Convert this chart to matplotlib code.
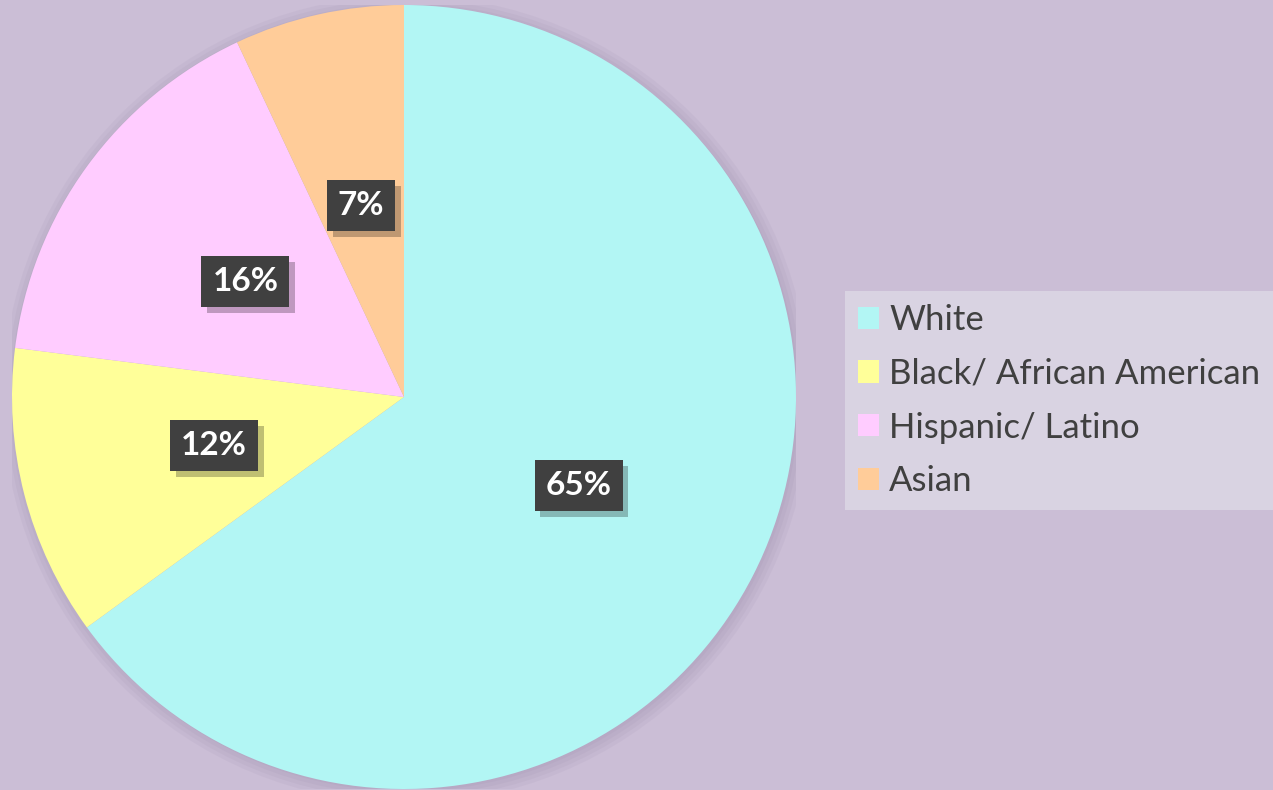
import matplotlib.pyplot as plt
import matplotlib.patheffects as pe
from matplotlib.patches import Circle

# race / ethnicity share
groups = ['White', 'Black/ African American', 'Hispanic/ Latino', 'Asian']
shares = [65, 12, 16, 7]
colors = ['#B2F6F4', '#FFFF99', '#FFCCFF', '#FFCC99']

bg = '#CBBED6'
W, H = 1273, 790

plt.rcParams['font.family'] = ['Lato', 'DejaVu Sans']

fig = plt.figure(figsize=(W / 100, H / 100), dpi=100, facecolor=bg)
# pie centre ~ (404, 397) px, radius ~ 392 px
ax = fig.add_axes([12 / W, 1 / H, 784 / W, 784 / H])
ax.set_facecolor(bg)

# soft shadow behind the pie
for r in [1.03, 1.02, 1.01, 1.0]:
    ax.add_patch(Circle((0.006, -0.006), r, facecolor='#8a7a9a', alpha=0.08,
                        linewidth=0, zorder=0))

wedges, texts, autotexts = ax.pie(
    shares, colors=colors, startangle=90, counterclock=False,
    autopct='%1.0f%%', pctdistance=0.5, radius=1.0,
    wedgeprops=dict(linewidth=0, zorder=1),
    textprops=dict(color='white', fontsize=24, fontweight='bold'))

for t in autotexts:
    t.set_zorder(5)
    t.set_bbox(dict(boxstyle='square,pad=0.33', facecolor='#404040',
                    edgecolor='none', linewidth=0))
    t.get_bbox_patch().set_path_effects([
        pe.SimplePatchShadow(offset=(4, -4), shadow_rgbFace='#000000', alpha=0.25),
        pe.Normal()])

ax.set_xlim(-1, 1)
ax.set_ylim(-1, 1)
ax.set_aspect('equal')
ax.axis('off')

leg = fig.legend(wedges, groups, loc='upper left',
                 bbox_to_anchor=(845 / W, 1 - 291 / H),
                 frameon=True, fancybox=False, fontsize=25,
                 handlelength=0.6, handleheight=0.6, handletextpad=0.3,
                 labelspacing=0.63, borderpad=0.37, borderaxespad=0)
leg.get_frame().set_facecolor('#D9D3E2')
leg.get_frame().set_edgecolor('none')
leg.get_frame().set_alpha(1)
for txt in leg.get_texts():
    txt.set_color('#404040')

fig.savefig('out.png', dpi=100, facecolor=bg)
